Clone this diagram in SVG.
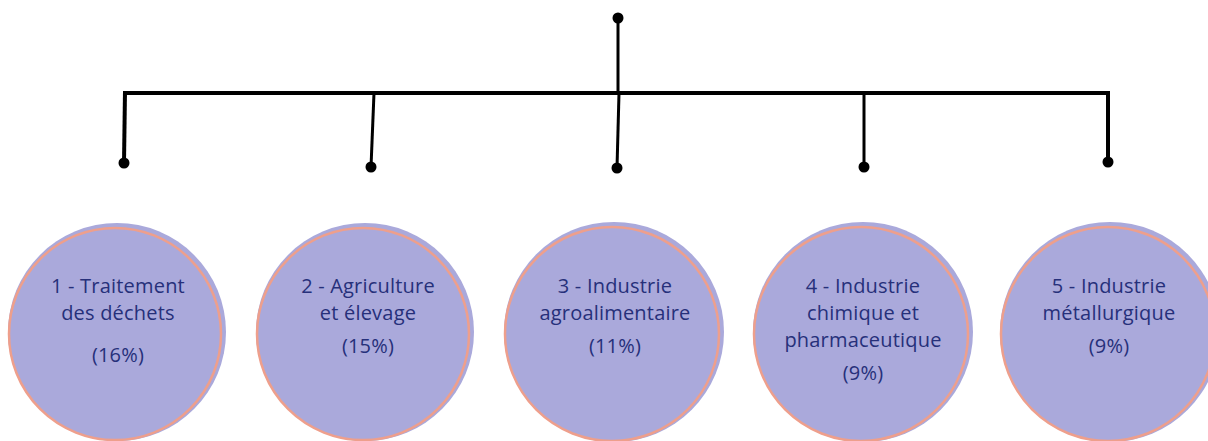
<svg xmlns="http://www.w3.org/2000/svg" width="1208" height="441" viewBox="0 0 1208 441">
<style>
.fill{fill:#aaa9db;stroke:none}
.ring{fill:none;stroke:#ee9f8c;stroke-width:2.5}
.lbl{font-family:"Open Sans","Liberation Sans",sans-serif;font-size:20px;font-weight:500;letter-spacing:0.2px;fill:#26307a;text-anchor:middle}
.ln{stroke:#000;stroke-width:3;fill:none}
.thick{stroke:#000;stroke-width:4;fill:none}
.dot{fill:#000}
</style>
<rect width="1208" height="441" fill="#fff"/>
<g id="connectors">
<line class="thick" x1="124" y1="93" x2="1110" y2="93"/>
<line class="ln" x1="618" y1="18" x2="618" y2="93"/>
<circle class="dot" cx="618" cy="18" r="5.5"/>
<line class="thick" x1="125" y1="91" x2="124" y2="163"/>
<circle class="dot" cx="124" cy="163" r="5.5"/>
<line class="ln" x1="374" y1="93" x2="371" y2="167"/>
<circle class="dot" cx="371" cy="167" r="5.5"/>
<line class="ln" x1="619" y1="93" x2="617" y2="168"/>
<circle class="dot" cx="617" cy="168" r="5.5"/>
<line class="ln" x1="864" y1="93" x2="864" y2="167"/>
<circle class="dot" cx="864" cy="167" r="5.5"/>
<line class="thick" x1="1108" y1="91" x2="1108" y2="162"/>
<circle class="dot" cx="1108" cy="162" r="5.5"/>
</g>
<g id="node1">
<circle class="fill" cx="117" cy="332" r="109"/>
<circle class="ring" cx="115" cy="334" r="106"/>
<text class="lbl" x="118" y="293">1 - Traitement</text>
<text class="lbl" x="118" y="320">des déchets</text>
<text class="lbl" x="118" y="362">(16%)</text>
</g>
<g id="node2">
<circle class="fill" cx="365" cy="332" r="109"/>
<circle class="ring" cx="363" cy="334" r="106"/>
<text class="lbl" x="368" y="293">2 - Agriculture</text>
<text class="lbl" x="368" y="320">et élevage</text>
<text class="lbl" x="368" y="353">(15%)</text>
</g>
<g id="node3">
<circle class="fill" cx="614" cy="332" r="110"/>
<circle class="ring" cx="612" cy="334" r="107"/>
<text class="lbl" x="615" y="293">3 - Industrie</text>
<text class="lbl" x="615" y="320">agroalimentaire</text>
<text class="lbl" x="615" y="353">(11%)</text>
</g>
<g id="node4">
<circle class="fill" cx="863" cy="332" r="110"/>
<circle class="ring" cx="861" cy="334" r="107"/>
<text class="lbl" x="863" y="293">4 - Industrie</text>
<text class="lbl" x="863" y="320">chimique et</text>
<text class="lbl" x="863" y="347">pharmaceutique</text>
<text class="lbl" x="863" y="380">(9%)</text>
</g>
<g id="node5">
<circle class="fill" cx="1110" cy="332" r="110"/>
<circle class="ring" cx="1108" cy="334" r="107"/>
<text class="lbl" x="1109" y="293">5 - Industrie</text>
<text class="lbl" x="1109" y="320">métallurgique</text>
<text class="lbl" x="1109" y="353">(9%)</text>
</g>
</svg>
